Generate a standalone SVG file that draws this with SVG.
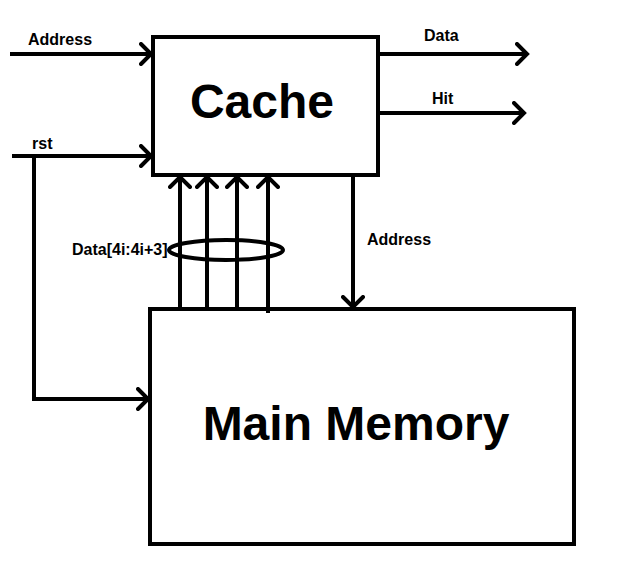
<svg xmlns="http://www.w3.org/2000/svg" width="633" height="567" viewBox="0 0 633 567">
  <defs>
    <marker id="chev" viewBox="-12 -12 16 24" markerWidth="16" markerHeight="24" markerUnits="userSpaceOnUse" refX="0" refY="0" orient="auto">
      <path d="M-10,-10 L0,0 L-10,10" fill="none" stroke="#000" stroke-width="4" stroke-linecap="round" stroke-linejoin="miter"/>
    </marker>
  </defs>
  <style>
    .box { fill: #fff; stroke: #000; stroke-width: 4; }
    .wire { fill: none; stroke: #000; stroke-width: 4; }
    .arrow { marker-end: url(#chev); }
    .lbl { font-family: "Liberation Sans", Arial, sans-serif; font-weight: bold; font-size: 16px; fill: #000; }
    .title { font-family: "Liberation Sans", Arial, sans-serif; font-weight: bold; font-size: 48px; fill: #000; text-anchor: middle; }
  </style>
  <rect width="633" height="567" fill="#fff"/>

  <g id="cache">
    <rect class="box" x="153" y="37" width="225" height="138"/>
    <text class="title" x="262" y="118">Cache</text>
  </g>

  <g id="main-memory">
    <rect class="box" x="150" y="309" width="424" height="235"/>
    <text class="title" x="356" y="440">Main Memory</text>
  </g>

  <g id="connectors">
    <!-- inputs to cache -->
    <line class="wire arrow" x1="10" y1="54" x2="151" y2="54"/>
    <text class="lbl" x="28" y="45">Address</text>
    <line class="wire arrow" x1="12" y1="156" x2="151" y2="156"/>
    <text class="lbl" x="32" y="149">rst</text>
    <!-- reset branch to main memory -->
    <polyline class="wire arrow" points="34,156 34,399 148,399"/>

    <!-- cache outputs -->
    <line class="wire arrow" x1="378" y1="54" x2="527" y2="54"/>
    <text class="lbl" x="424" y="41">Data</text>
    <line class="wire arrow" x1="378" y1="113" x2="524" y2="113"/>
    <text class="lbl" x="432" y="104">Hit</text>

    <!-- data bus from memory to cache -->
    <line class="wire arrow" x1="180" y1="309" x2="180" y2="177"/>
    <line class="wire arrow" x1="207" y1="309" x2="207" y2="177"/>
    <line class="wire arrow" x1="237" y1="309" x2="237" y2="177"/>
    <line class="wire arrow" x1="268" y1="313" x2="268" y2="177"/>
    <ellipse class="wire" cx="226" cy="250" rx="57" ry="10"/>
    <text class="lbl" x="72" y="255">Data[4i:4i+3]</text>

    <!-- address from cache to memory -->
    <line class="wire arrow" x1="353" y1="175" x2="353" y2="307"/>
    <text class="lbl" x="367" y="245">Address</text>
  </g>
</svg>
